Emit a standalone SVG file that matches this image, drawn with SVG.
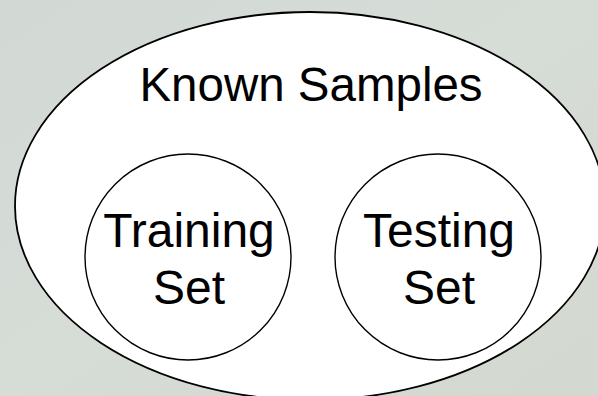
<svg xmlns="http://www.w3.org/2000/svg" width="598" height="396" viewBox="0 0 598 396">
<defs>
<linearGradient id="bg" x1="0" y1="0" x2="1" y2="1">
<stop offset="0" stop-color="#d2d9d5"/>
<stop offset="0.5" stop-color="#d6dcd6"/>
<stop offset="1" stop-color="#d3d9d0"/>
</linearGradient>
<style>
.shape{fill:#ffffff;stroke:#000000}
.lbl{font-family:"Liberation Sans",Arial,sans-serif;fill:#000000;text-anchor:middle}
</style>
</defs>
<rect x="0" y="0" width="598" height="396" fill="url(#bg)"/>
<g id="known-samples">
<ellipse class="shape" cx="310" cy="206" rx="295" ry="194" stroke-width="1.8"/>
<text class="lbl" x="311" y="101" font-size="47.5">Known Samples</text>
</g>
<g id="training-set">
<circle class="shape" cx="188" cy="257" r="103" stroke-width="1.4"/>
<text class="lbl" x="189" y="247" font-size="48">Training</text>
<text class="lbl" x="189" y="304" font-size="48">Set</text>
</g>
<g id="testing-set">
<circle class="shape" cx="438" cy="257" r="103" stroke-width="1.4"/>
<text class="lbl" x="439" y="247" font-size="48">Testing</text>
<text class="lbl" x="439" y="304" font-size="48">Set</text>
</g>
<g id="connectors"/>
</svg>
